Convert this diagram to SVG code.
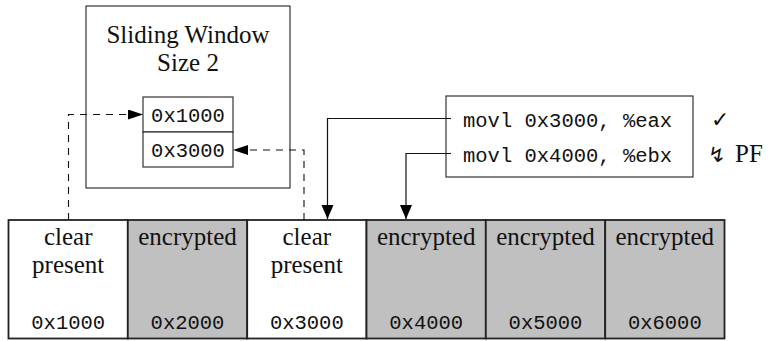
<svg xmlns="http://www.w3.org/2000/svg" width="777" height="341" viewBox="0 0 777 341">
  <style>
    .serif { font-family: "Liberation Serif", "DejaVu Serif", serif; font-size: 25px; fill: #111; }
    .mono { font-family: "Liberation Mono", "DejaVu Sans Mono", monospace; font-size: 20.5px; fill: #111; }
    .sym { font-family: "DejaVu Sans", sans-serif; fill: #111; }
    .box { fill: #fff; stroke: #222; stroke-width: 1.1; }
    .cell-clear { fill: #fff; stroke: #222; stroke-width: 1.8; }
    .cell-enc { fill: #c0c0c0; stroke: #222; stroke-width: 1.8; }
    .dashed { fill: none; stroke: #111; stroke-width: 1.1; stroke-dasharray: 7 6; }
    .solid { fill: none; stroke: #111; stroke-width: 1.2; }
  </style>
  <defs>
    <marker id="headDashed" markerUnits="userSpaceOnUse" markerWidth="16" markerHeight="11" refX="15" refY="5" orient="auto">
      <path d="M0,0 L15,5 L0,10 z" fill="#000" stroke="none"/>
    </marker>
    <marker id="headSolid" markerUnits="userSpaceOnUse" markerWidth="15" markerHeight="13" refX="14" refY="6" orient="auto">
      <path d="M0,0 L14,6 L0,12 z" fill="#000" stroke="none"/>
    </marker>
  </defs>

  <!-- sliding window -->
  <g id="window">
    <rect class="box" x="86" y="6" width="204" height="182"/>
    <text class="serif" x="188" y="43" text-anchor="middle">Sliding Window</text>
    <text class="serif" x="188" y="71" text-anchor="middle">Size 2</text>
  </g>
  <g id="slot1000">
    <rect class="box" x="143" y="97" width="90" height="35"/>
    <text class="mono" x="188" y="122" text-anchor="middle">0x1000</text>
  </g>
  <g id="slot3000">
    <rect class="box" x="143" y="132" width="90" height="35"/>
    <text class="mono" x="188" y="157" text-anchor="middle">0x3000</text>
  </g>

  <!-- instructions -->
  <g id="code">
    <rect class="box" x="446" y="96" width="247" height="81"/>
    <text class="mono" x="463" y="127">movl 0x3000, %eax</text>
    <text class="mono" x="463" y="162">movl 0x4000, %ebx</text>
  </g>
  <g id="status">
    <text class="sym" x="711" y="127" font-size="22">✓</text>
    <text class="sym" x="708" y="162" font-size="21">↯</text>
    <text class="serif" x="735" y="162">PF</text>
  </g>

  <!-- memory pages -->
  <g id="page1000">
    <rect class="cell-clear" x="8.5" y="220" width="119.3" height="118.5"/>
    <text class="serif" x="68.2" y="245" text-anchor="middle">clear</text>
    <text class="serif" x="68.2" y="273" text-anchor="middle">present</text>
    <text class="mono" x="68.2" y="329" text-anchor="middle">0x1000</text>
  </g>
  <g id="page2000">
    <rect class="cell-enc" x="127.8" y="220" width="119.4" height="118.5"/>
    <text class="serif" x="187.5" y="245" text-anchor="middle">encrypted</text>
    <text class="mono" x="187.5" y="329" text-anchor="middle">0x2000</text>
  </g>
  <g id="page3000">
    <rect class="cell-clear" x="247.2" y="220" width="119.3" height="118.5"/>
    <text class="serif" x="306.8" y="245" text-anchor="middle">clear</text>
    <text class="serif" x="306.8" y="273" text-anchor="middle">present</text>
    <text class="mono" x="306.8" y="329" text-anchor="middle">0x3000</text>
  </g>
  <g id="page4000">
    <rect class="cell-enc" x="366.5" y="220" width="119.3" height="118.5"/>
    <text class="serif" x="426.2" y="245" text-anchor="middle">encrypted</text>
    <text class="mono" x="426.2" y="329" text-anchor="middle">0x4000</text>
  </g>
  <g id="page5000">
    <rect class="cell-enc" x="485.8" y="220" width="119.4" height="118.5"/>
    <text class="serif" x="545.5" y="245" text-anchor="middle">encrypted</text>
    <text class="mono" x="545.5" y="329" text-anchor="middle">0x5000</text>
  </g>
  <g id="page6000">
    <rect class="cell-enc" x="605.2" y="220" width="119.3" height="118.5"/>
    <text class="serif" x="664.8" y="245" text-anchor="middle">encrypted</text>
    <text class="mono" x="664.8" y="329" text-anchor="middle">0x6000</text>
  </g>

  <!-- connectors -->
  <g id="connectors">
    <path class="dashed" d="M68.5,220 V114.5 H143" marker-end="url(#headDashed)"/>
    <path class="dashed" d="M304,220 V150 H233" marker-end="url(#headDashed)"/>
    <path class="solid" d="M451,118.5 H327.5 V219" marker-end="url(#headSolid)"/>
    <path class="solid" d="M451,153.5 H406 V219" marker-end="url(#headSolid)"/>
  </g>
</svg>
